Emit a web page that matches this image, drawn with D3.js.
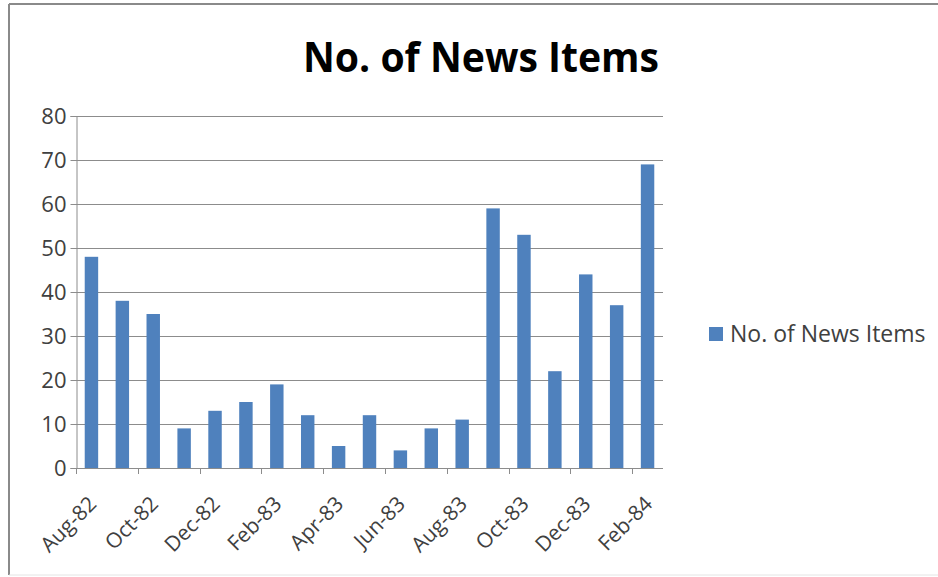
<!DOCTYPE html>
<html>
<head>
<meta charset="utf-8">
<script src="https://cdn.jsdelivr.net/npm/d3@7"></script>
<style>
  html, body { margin: 0; padding: 0; background: #fff; }
  svg { display: block; }
</style>
</head>
<body>
<script>
// Monthly count of news items, Aug 1982 – Feb 1984
const months = ["Aug-82","Sep-82","Oct-82","Nov-82","Dec-82","Jan-83","Feb-83","Mar-83","Apr-83","May-83",
                "Jun-83","Jul-83","Aug-83","Sep-83","Oct-83","Nov-83","Dec-83","Jan-84","Feb-84"];
const newsItems = [48, 38, 35, 9, 13, 15, 19, 12, 5, 12, 4, 9, 11, 59, 53, 22, 44, 37, 69];
const yTicks = [0, 10, 20, 30, 40, 50, 60, 70, 80];
const seriesName = "No. of News Items";
const chartTitle = "No. of News Items";

const W = 938, H = 577;
const plot = { left: 76, right: 663, top: 116, bottom: 468 };
const barColor = "#4f81bd";
const textColor = "#404040";
const font = "'Open Sans', 'Liberation Sans', sans-serif";

const svg = d3.select("body").append("svg").attr("width", W).attr("height", H);

// chart frame
svg.append("rect").attr("x", 0).attr("y", 0).attr("width", W).attr("height", H).attr("fill", "#fff");
svg.append("line").attr("x1", 9).attr("x2", W).attr("y1", 4).attr("y2", 4)
  .attr("stroke", "#8a8a8a").attr("stroke-width", 2);
svg.append("line").attr("x1", 9).attr("x2", 9).attr("y1", 4).attr("y2", H - 2)
  .attr("stroke", "#8a8a8a").attr("stroke-width", 2);
svg.append("line").attr("x1", 9).attr("x2", W).attr("y1", H - 2).attr("y2", H - 2)
  .attr("stroke", "#e4e4e4").attr("stroke-width", 1);

const x = d3.scaleBand().domain(months).range([plot.left, plot.right]).paddingInner(0.565).paddingOuter(0.2825);
const xEdge = d3.scaleLinear().domain([0, months.length]).range([plot.left, plot.right]);
const y = d3.scaleLinear().domain([0, 80]).range([plot.bottom, plot.top]);

// horizontal gridlines
svg.append("g").selectAll("line").data(yTicks.filter(d => d > 0)).join("line")
  .attr("x1", plot.left).attr("x2", plot.right)
  .attr("y1", d => Math.round(y(d)) + 0.5).attr("y2", d => Math.round(y(d)) + 0.5)
  .attr("stroke", "#8c8c8c").attr("stroke-width", 1);

// y axis
const yAxis = svg.append("g").attr("transform", `translate(${plot.left + 0.5},0)`)
  .call(d3.axisLeft(y).tickValues(yTicks).tickSize(6).tickPadding(4));
yAxis.select(".domain").attr("stroke", "#8c8c8c");
yAxis.selectAll(".tick line").attr("stroke", "#8c8c8c");
yAxis.selectAll(".tick text").attr("font-family", font).attr("font-size", 22).attr("fill", textColor);

// bars
svg.append("g").selectAll("rect").data(newsItems).join("rect")
  .attr("x", (d, i) => x(months[i]))
  .attr("width", x.bandwidth())
  .attr("y", d => y(d))
  .attr("height", d => y(0) - y(d))
  .attr("fill", barColor);

// x axis line with tick marks every second month
svg.append("line").attr("x1", plot.left).attr("x2", plot.right)
  .attr("y1", plot.bottom + 0.5).attr("y2", plot.bottom + 0.5).attr("stroke", "#8c8c8c");
const tickIdx = d3.range(0, months.length + 1, 2);
svg.append("g").selectAll("line").data(tickIdx).join("line")
  .attr("x1", i => Math.round(xEdge(i)) + 0.5).attr("x2", i => Math.round(xEdge(i)) + 0.5)
  .attr("y1", plot.bottom).attr("y2", plot.bottom + 6)
  .attr("stroke", "#8c8c8c");

// rotated month labels on every second month
const labelIdx = d3.range(0, months.length, 2);
svg.append("g").selectAll("text").data(labelIdx).join("text")
  .attr("transform", i => `translate(${x(months[i]) + x.bandwidth() / 2 + 1},${plot.bottom + 32}) rotate(-45)`)
  .attr("text-anchor", "end")
  .attr("dy", "0.35em")
  .attr("font-family", font).attr("font-size", 21).attr("fill", textColor)
  .text(i => months[i]);

// title
svg.append("text").attr("x", 481).attr("y", 72)
  .attr("text-anchor", "middle")
  .attr("font-family", "'Open Sans', 'Liberation Sans', sans-serif")
  .attr("font-weight", "bold").attr("font-size", 41).attr("fill", "#000")
  .attr("textLength", 356).attr("lengthAdjust", "spacingAndGlyphs")
  .text(chartTitle);

// legend
const lg = svg.append("g").attr("transform", "translate(709,334)");
lg.append("rect").attr("x", 0).attr("y", -7).attr("width", 14).attr("height", 14).attr("fill", barColor);
lg.append("text").attr("x", 21).attr("y", 0).attr("dy", "0.35em")
  .attr("font-family", font).attr("font-size", 23).attr("fill", textColor)
  .text(seriesName);
</script>
</body>
</html>
